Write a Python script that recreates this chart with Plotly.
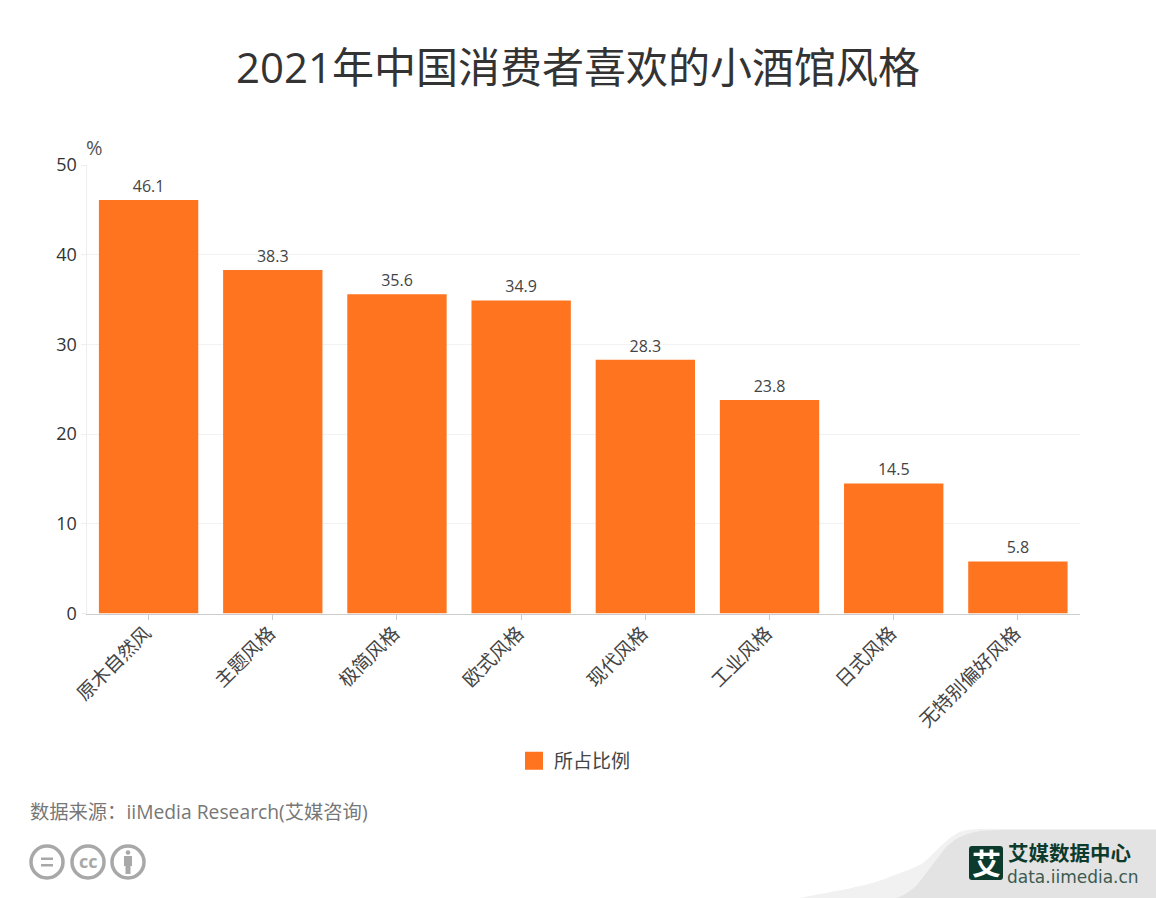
import plotly.graph_objects as go

W, H = 1156, 898
categories = ["原木自然风", "主题风格", "极简风格", "欧式风格", "现代风格", "工业风格", "日式风格", "无特别偏好风格"]
values = [46.1, 38.3, 35.6, 34.9, 28.3, 23.8, 14.5, 5.8]
y_ticks = [0, 10, 20, 30, 40, 50]
series_name = "所占比例"
title_text = "2021年中国消费者喜欢的小酒馆风格"
source_text = "数据来源：iiMedia Research(艾媒咨询)"
FONT = "'Open Sans', 'Noto Sans CJK SC', sans-serif"
ORANGE = "#fe741f"

def px(x): return x / W
def py(y): return 1 - y / H
def pth(points):
    return " ".join(f"{c}{px(x):.5f},{py(y):.5f}" if c != "C" else
                    "C" + " ".join(f"{px(a):.5f},{py(b):.5f}" for a, b in x_y)
                    for c, x, y, x_y in points)
def M(x, y): return ("M", x, y, None)
def L(x, y): return ("L", x, y, None)
def C(*p): return ("C", 0, 0, list(zip(p[0::2], p[1::2])))

fig = go.Figure()
fig.add_trace(go.Bar(
    x=categories, y=values, name=series_name, width=0.8,
    marker=dict(color=ORANGE, line=dict(width=0)),
    text=[f"{v:.1f}" for v in values], textposition="outside", cliponaxis=False,
    textfont=dict(size=16, color="#444444", family=FONT), showlegend=False,
))
fig.add_trace(go.Scatter(
    x=[None], y=[None], mode="markers", name=series_name, showlegend=True,
    marker=dict(symbol="square", size=16, color=ORANGE, line=dict(color=ORANGE, width=2)),
))

shapes = []
def rect(x0, y0, x1, y1, color, layer="above"):
    shapes.append(dict(type="rect", xref="paper", yref="paper", x0=px(x0), x1=px(x1), y0=py(y0), y1=py(y1),
                       fillcolor=color, line=dict(width=0), layer=layer))
def ring(cx, cy, r, color="#a8a8a8", w=3.5, fill="rgba(0,0,0,0)"):
    shapes.append(dict(type="circle", xref="paper", yref="paper", x0=px(cx-r), x1=px(cx+r), y0=py(cy+r), y1=py(cy-r),
                       line=dict(color=color, width=w), fillcolor=fill))
def path(points, color, layer="above"):
    shapes.append(dict(type="path", xref="paper", yref="paper", path=pth(points) + " Z",
                       fillcolor=color, line=dict(width=0), layer=layer))

# watermark swoosh
path([M(799, 898), C(830, 892, 870, 886, 889, 877), C(905, 871, 915, 868, 923, 863),
      C(935, 853, 945, 840, 956, 834), C(962, 830, 970, 829, 985, 829), L(1156, 829), L(1156, 898)], "#f1f1f1", "below")
path([M(896, 898), C(905, 895, 912, 890, 917, 885), C(925, 875, 932, 865, 940, 855),
      C(948, 843, 960, 834, 980, 831), C(990, 830, 1000, 830, 1010, 830), L(1156, 830), L(1156, 898)], "#e3e3e3", "below")
# logo box
path([M(972, 846), L(1000, 846), C(1002, 846, 1003, 847, 1003, 849), L(1003, 877),
      C(1003, 879, 1002, 880, 1000, 880), L(972, 880), C(970, 880, 969, 879, 969, 877),
      L(969, 849), C(969, 847, 970, 846, 972, 846)], "#0c3a2d")
# licence icons
ring(47, 862, 16); ring(88, 862, 16); ring(128, 862, 16)
rect(41, 857.5, 53, 860, "#a8a8a8"); rect(41, 864, 53, 866.5, "#a8a8a8")
ring(128, 852.5, 2.3, w=0, fill="#a8a8a8")
rect(124, 856, 132, 866, "#a8a8a8"); rect(125.5, 866, 130.5, 874, "#a8a8a8")

def note(text, x, y, size, color, anchor="left", **kw):
    return dict(text=text, xref="paper", yref="paper", x=px(x), y=py(y), showarrow=False,
                xanchor=anchor, yanchor="middle", font=dict(size=size, color=color, family=kw.pop("family", FONT)), **kw)

annotations = [
    note("%", 84, 148, 20, "#555555"),
    note(source_text, 28, 811, 19.3, "#777777"),
    note("<b>cc</b>", 88, 861, 18, "#a8a8a8", "center"),
    note("<b>艾</b>", 986, 863, 29, "#ffffff", "center"),
    note("<b>艾媒数据中心</b>", 1006, 853, 20.5, "#0c3a2d"),
    note("data.iimedia.cn", 1005, 877, 17, "#3c5a50", family="'DejaVu Sans', sans-serif"),
]

fig.update_layout(
    width=W, height=H, autosize=False,
    margin=dict(l=0, r=0, t=0, b=0, pad=0),
    paper_bgcolor="white", plot_bgcolor="white",
    font=dict(family=FONT, color="#333333"),
    title=dict(text=title_text, x=0.5, xanchor="center", y=py(68), yanchor="middle",
               xref="paper", yref="paper", font=dict(size=42, color="#333333", family=FONT)),
    xaxis=dict(domain=[px(86.5), px(1080)], range=[-0.5, 7.5], type="category", tickangle=-45,
               tickfont=dict(size=19, color="#444444"), ticks="outside", ticklen=5, tickcolor="#cccccc",
               ticklabelstandoff=-5, ticklabelshift=-3,
               showline=True, linecolor="#cccccc", linewidth=1, showgrid=False, automargin=False),
    yaxis=dict(domain=[py(613.5), py(165)], range=[0, 50], tickvals=y_ticks, ticks="outside", ticklen=5,
               tickcolor="#eeeeee", tickfont=dict(size=18, color="#333333"), showline=True, linecolor="#eeeeee",
               linewidth=1, gridcolor="#f2f2f2", gridwidth=1, zeroline=False, automargin=False),
    legend=dict(orientation="h", x=px(575), xanchor="center", y=py(761), yanchor="middle", xref="paper", yref="paper",
                font=dict(size=19, color="#444444"), itemwidth=30, itemsizing="trace", bgcolor="rgba(0,0,0,0)"),
    shapes=shapes, annotations=annotations,
)
fig.write_html("out.html", post_script="document.body.style.margin='0';", config={"displayModeBar": False})
